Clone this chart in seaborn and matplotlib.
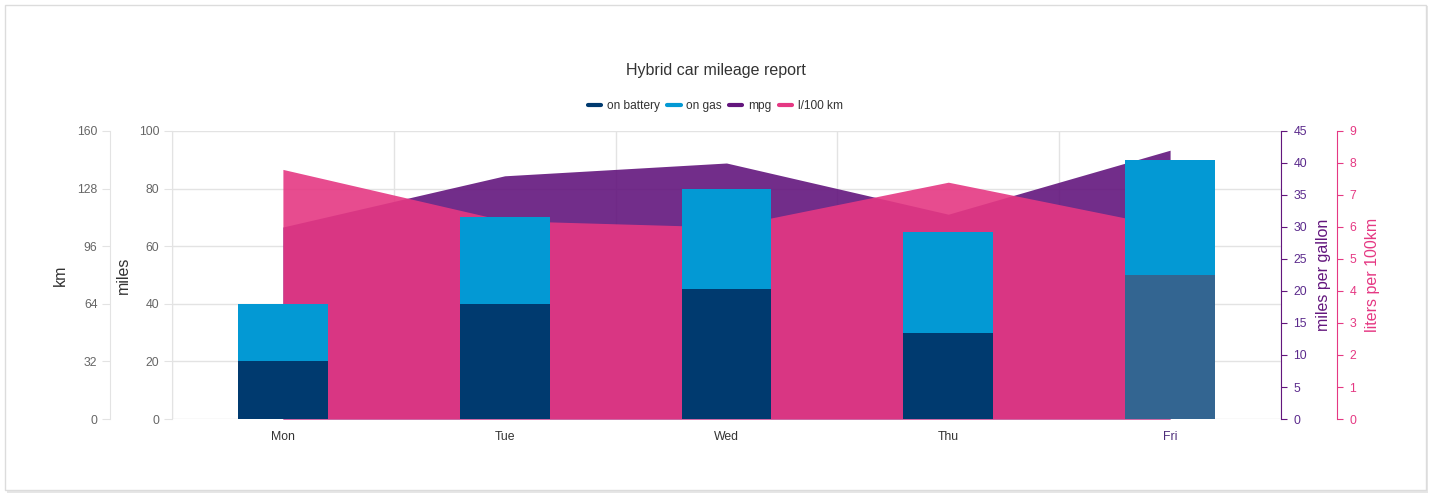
import numpy as np
import pandas as pd
import matplotlib.pyplot as plt
import seaborn as sns
from matplotlib.lines import Line2D
from matplotlib.patches import Rectangle

# data
days = ["Mon", "Tue", "Wed", "Thu", "Fri"]
on_battery = [20, 40, 45, 30, 50]      # miles
on_gas = [20, 30, 35, 35, 40]          # miles
mpg = [30, 38, 40, 32, 42]             # miles per gallon
l_100km = [7.8, 6.2, 6.0, 7.4, 6.0]    # liters per 100 km

km_ticks = [0, 32, 64, 96, 128, 160]
miles_ticks = [0, 20, 40, 60, 80, 100]
mpg_ticks = [0, 5, 10, 15, 20, 25, 30, 35, 40, 45]
l_ticks = [0, 1, 2, 3, 4, 5, 6, 7, 8, 9]

c_battery = "#003A6F"
c_battery_hl = "#336591"
c_gas = "#0399D4"
c_mpg = "#63167D"
c_l = "#E53883"
c_grid = "#E3E3E3"
c_tick = "#666666"

sns.set_style("white")
plt.rcParams['font.family'] = ['Liberation Sans', 'DejaVu Sans']

df = pd.DataFrame({"day": days, "battery": on_battery, "gas": on_gas})
df["total"] = df["battery"] + df["gas"]

fig = plt.figure(figsize=(14.31, 4.96), dpi=100)
# outer frame of the card
fig.patches.append(Rectangle((7 / 1431, 3 / 496), 1421 / 1431, 487 / 496, transform=fig.transFigure,
                             facecolor="#e6e6e6", edgecolor="none", zorder=-2))
fig.patches.append(Rectangle((5 / 1431, 6 / 496), 1421 / 1431, 485 / 496, transform=fig.transFigure,
                             facecolor="white", edgecolor="#dcdcdc", lw=1, zorder=-1))

ax = fig.add_axes([172 / 1431, 77 / 496, 1109 / 1431, 288 / 496])
ax.set_facecolor("none")

x = np.arange(len(days))
# areas (mpg behind, l/100km in front), drawn on their own scales
ax_mpg = ax.twinx()
ax_l = ax.twinx()
ax_km = ax.twinx()

# put the area axes behind the bar axes
ax.set_zorder(3)
ax_mpg.set_zorder(1)
ax_l.set_zorder(2)
ax_km.set_zorder(0)

ax_mpg.fill_between(x, 0, mpg, color=c_mpg, alpha=0.9, lw=0)
ax_l.fill_between(x, 0, l_100km, color=c_l, alpha=0.9, lw=0)

sns.barplot(data=df, x="day", y="total", color=c_gas, saturation=1, width=0.405,
            errorbar=None, ax=ax, zorder=3, linewidth=0)
sns.barplot(data=df, x="day", y="battery", color=c_battery, saturation=1, width=0.405,
            errorbar=None, ax=ax, zorder=3, linewidth=0)
# Fri battery bar is in hover state
ax.patches[-1].set_facecolor(c_battery_hl)

for a in (ax, ax_mpg, ax_l, ax_km):
    a.set_xlim(-0.5, len(days) - 0.5)
    for s in a.spines.values():
        s.set_visible(False)

ax.set_ylim(0, 100)
ax_mpg.set_ylim(0, 45)
ax_l.set_ylim(0, 9)
ax_km.set_ylim(0, 160)

# grid drawn on the back axes so it stays under the areas
for v in miles_ticks:
    ax_km.axhline(v * 1.6, color=c_grid, lw=1, zorder=0)
for b in np.arange(-0.5, len(days), 1.0):
    ax_km.axvline(b, color=c_grid, lw=1, zorder=0)

# miles axis (inner left)
ax.set_yticks(miles_ticks)
ax.tick_params(axis="y", length=6, color=c_grid, labelcolor=c_tick, labelsize=8.8, pad=3)
ax.spines["left"].set_visible(True)
ax.spines["left"].set_color(c_grid)
ax.set_ylabel("miles", fontsize=11.5, color="#333333")
ax.yaxis.set_label_coords(-0.037, 0.5)

# x axis
ax.set_xlabel("")
ax.set_xticks(np.arange(-0.5, len(days), 1.0), minor=False)
ax.set_xticklabels([])
ax.set_xticks(x, minor=True)
ax.set_xticklabels(days, minor=True)
ax.tick_params(axis="x", which="major", length=6, color=c_grid)
ax.tick_params(axis="x", which="minor", length=0, labelsize=8.8, labelcolor="#333333", pad=9)
ax.get_xticklabels(minor=True)[-1].set_color("#4d2d7a")

# km axis (outer left)
ax_km.yaxis.set_ticks_position("left")
ax_km.yaxis.set_label_position("left")
ax_km.spines["left"].set_visible(True)
ax_km.spines["left"].set_position(("outward", 62 * 0.72))
ax_km.spines["left"].set_color(c_grid)
ax_km.set_yticks(km_ticks)
ax_km.tick_params(axis="y", length=6, color=c_grid, labelcolor=c_tick, labelsize=8.8, pad=3)
ax_km.set_ylabel("km", fontsize=11.5, color="#333333")
ax_km.yaxis.set_label_coords(-0.094, 0.5)
ax_km.set_xticks([])

# mpg axis (inner right)
ax_mpg.spines["right"].set_visible(True)
ax_mpg.spines["right"].set_color(c_mpg)
ax_mpg.set_yticks(mpg_ticks)
ax_mpg.tick_params(axis="y", length=4, color=c_mpg, labelcolor="#5b2a8c", labelsize=8.8, pad=5)
ax_mpg.set_ylabel("miles per gallon", fontsize=11.5, color=c_mpg)
ax_mpg.yaxis.set_label_coords(1.0316, 0.5)
ax_mpg.set_xticks([])

# l/100km axis (outer right)
ax_l.spines["right"].set_visible(True)
ax_l.spines["right"].set_position(("outward", 56 * 0.72))
ax_l.spines["right"].set_color(c_l)
ax_l.set_yticks(l_ticks)
ax_l.tick_params(axis="y", length=4, color=c_l, labelcolor=c_l, labelsize=8.8, pad=5)
ax_l.set_ylabel("liters per 100km", fontsize=11.5, color=c_l)
ax_l.yaxis.set_label_coords(1.0757, 0.5)
ax_l.set_xticks([])

fig.text(0.5, 1 - 70 / 496, "Hybrid car mileage report", ha="center", va="center",
         fontsize=11.5, color="#333333")

handles = [Line2D([], [], color=c, lw=3) for c in (c_battery, c_gas, c_mpg, c_l)]
fig.legend(handles, ["on battery", "on gas", "mpg", "l/100 km"], loc="center",
           bbox_to_anchor=(0.5, 1 - 106 / 496), ncol=4, frameon=False, fontsize=8.6,
           handlelength=1.1, handletextpad=0.5, columnspacing=0.6, labelcolor="#333333")

fig.savefig("out.png", dpi=100)
